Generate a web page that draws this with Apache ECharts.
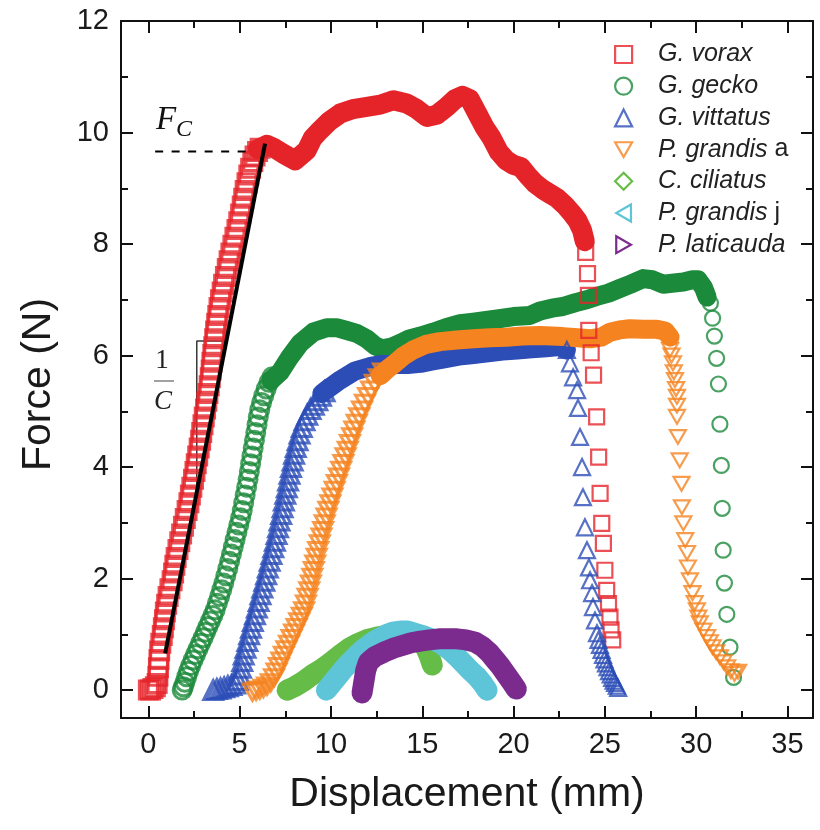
<!DOCTYPE html>
<html><head><meta charset="utf-8">
<script src="https://cdn.jsdelivr.net/npm/echarts@6/dist/echarts.min.js"></script>
<style>html,body{margin:0;padding:0;background:#fff}#c{width:820px;height:830px}</style>
</head><body><div id="c"></div>
<script>
// ---------------- data ----------------
const xTickValues = [0, 5, 10, 15, 20, 25, 30, 35];
const xMinorTicks = [2.5, 7.5, 12.5, 17.5, 22.5, 27.5, 32.5];
const yTickValues = [0, 2, 4, 6, 8, 10, 12];
const yMinorTicks = [1, 3, 5, 7, 9, 11];
const speciesNames = ['G. vorax', 'G. gecko', 'G. vittatus', 'P. grandis a', 'C. ciliatus', 'P. grandis j', 'P. laticauda'];

// G. vorax (red squares)
const voraxRise = [[0.0,0.0],[0.12,0.0],[0.25,0.03],[0.38,0.06],[0.48,0.12],[0.52,0.25],[0.55,0.4],[0.58,0.55],[0.62,0.7],[0.68,0.84],[0.76,0.98],[0.82,1.12],[0.88,1.26],[0.93,1.4],[1.0,1.54],[1.08,1.68],[1.18,1.82],[1.3,1.96],[1.38,2.1],[1.45,2.24],[1.52,2.38],[1.62,2.52],[1.72,2.66],[1.82,2.8],[1.92,2.94],[2.02,3.08],[2.12,3.22],[2.22,3.36],[2.3,3.5],[2.38,3.64],[2.47,3.78],[2.55,3.92],[2.62,4.06],[2.7,4.2],[2.78,4.34],[2.86,4.48],[2.92,4.62],[2.99,4.76],[3.06,4.9],[3.13,5.04],[3.2,5.18],[3.26,5.32],[3.33,5.46],[3.39,5.6],[3.44,5.74],[3.48,5.88],[3.53,6.02],[3.58,6.16],[3.63,6.3],[3.68,6.44],[3.74,6.58],[3.8,6.72],[3.87,6.86],[3.95,7.0],[4.04,7.14],[4.12,7.28],[4.22,7.42],[4.32,7.56],[4.42,7.7],[4.52,7.84],[4.63,7.98],[4.74,8.12],[4.85,8.26],[4.95,8.4],[5.05,8.54],[5.14,8.68],[5.22,8.82],[5.3,8.96],[5.4,9.1],[5.5,9.24],[5.6,9.36],[5.72,9.48],[5.84,9.58],[5.98,9.66],[6.12,9.72]];
const voraxBand = [[6.0,9.7],[6.48,9.78],[6.9,9.72],[7.39,9.62],[8.03,9.5],[8.67,9.68],[9.0,9.9],[9.4,10.04],[9.9,10.2],[10.5,10.34],[11.2,10.42],[11.96,10.46],[12.7,10.5],[13.42,10.58],[14.15,10.52],[14.7,10.42],[15.25,10.28],[15.8,10.32],[16.34,10.46],[16.8,10.6],[17.2,10.66],[17.6,10.6],[18.0,10.35],[18.4,10.1],[18.8,9.9],[19.2,9.65],[19.6,9.5],[20.0,9.42],[20.4,9.38],[20.8,9.22],[21.2,9.08],[21.6,8.98],[22.0,8.9],[22.4,8.82],[22.8,8.7],[23.2,8.55],[23.5,8.42],[23.75,8.25],[23.9,8.05]];
const voraxDrop = [[23.95,7.85],[24.05,7.47],[24.1,7.08],[24.12,6.45],[24.25,6.05],[24.38,5.65],[24.55,4.9],[24.66,4.18],[24.74,3.53],[24.83,2.99],[24.92,2.63],[25.0,2.15],[25.1,1.79],[25.2,1.55],[25.28,1.31],[25.34,1.08],[25.43,0.9]];

// G. gecko (green circles)
const geckoRise = [[1.85,0.0],[1.92,0.06],[2.0,0.14],[2.1,0.24],[2.2,0.34],[2.32,0.44],[2.45,0.54],[2.58,0.64],[2.72,0.74],[2.86,0.84],[3.0,0.94],[3.13,1.04],[3.26,1.14],[3.4,1.24],[3.53,1.34],[3.66,1.44],[3.78,1.56],[3.9,1.68],[4.02,1.8],[4.13,1.92],[4.24,2.05],[4.35,2.18],[4.45,2.31],[4.55,2.44],[4.65,2.57],[4.75,2.7],[4.85,2.83],[4.95,2.96],[5.05,3.09],[5.14,3.22],[5.22,3.36],[5.3,3.5],[5.38,3.64],[5.46,3.78],[5.53,3.92],[5.6,4.06],[5.67,4.2],[5.74,4.34],[5.81,4.48],[5.88,4.62],[5.95,4.76],[6.02,4.9],[6.1,5.03],[6.2,5.16],[6.32,5.28],[6.45,5.4],[6.6,5.52],[6.78,5.62]];
const geckoBand = [[6.7,5.55],[7.21,5.7],[7.76,5.98],[8.31,6.22],[9.03,6.42],[9.77,6.5],[10.3,6.5],[10.87,6.45],[11.4,6.4],[11.96,6.3],[12.4,6.18],[12.8,6.12],[13.3,6.15],[13.8,6.22],[14.3,6.3],[14.9,6.35],[15.6,6.42],[16.3,6.5],[17.07,6.57],[17.8,6.6],[18.5,6.63],[19.2,6.66],[20.0,6.7],[20.9,6.72],[21.45,6.8],[22.1,6.85],[22.7,6.88],[23.4,6.95],[24.0,7.0],[24.55,7.06],[25.2,7.12],[25.8,7.2],[26.4,7.28],[27.1,7.38],[27.6,7.36],[28.2,7.28],[28.8,7.3],[29.3,7.32],[29.8,7.36],[30.1,7.36],[30.4,7.22],[30.6,7.05]];
const geckoDrop = [[30.78,6.94],[30.9,6.67],[31.0,6.35],[31.12,5.95],[31.22,5.49],[31.3,4.77],[31.38,4.03],[31.43,3.26],[31.48,2.51],[31.55,1.92],[31.68,1.36],[31.85,0.77],[32.05,0.23]];

// G. vittatus (blue triangles)
const vittatusRise = [[3.55,0.0],[3.75,0.02],[3.95,0.03],[4.15,0.05],[4.35,0.07],[4.55,0.09],[4.75,0.12],[4.9,0.18],[5.0,0.28],[5.07,0.4],[5.14,0.52],[5.22,0.64],[5.32,0.76],[5.42,0.88],[5.52,1.0],[5.62,1.12],[5.72,1.24],[5.84,1.36],[5.94,1.48],[6.04,1.6],[6.14,1.72],[6.24,1.84],[6.35,1.96],[6.45,2.08],[6.54,2.2],[6.64,2.32],[6.74,2.44],[6.84,2.56],[6.93,2.68],[7.02,2.8],[7.1,2.92],[7.18,3.04],[7.27,3.16],[7.35,3.28],[7.42,3.4],[7.5,3.52],[7.58,3.64],[7.65,3.76],[7.73,3.88],[7.81,4.0],[7.9,4.12],[7.98,4.24],[8.07,4.36],[8.17,4.48],[8.28,4.6],[8.4,4.72],[8.55,4.84],[8.7,4.94],[8.88,5.04],[9.06,5.12],[9.25,5.2],[9.45,5.28],[9.65,5.36]];
const vittatusBand = [[9.5,5.32],[9.9,5.42],[10.5,5.56],[11.3,5.72],[12.1,5.8],[12.8,5.84],[13.5,5.84],[14.2,5.84],[14.9,5.86],[15.5,5.9],[16.2,5.94],[17.0,5.99],[17.8,6.02],[18.6,6.05],[19.4,6.08],[20.2,6.1],[21.0,6.12],[21.8,6.14],[22.5,6.16],[22.9,6.1]];
const vittatusDrop = [[22.92,6.1],[23.09,5.86],[23.26,5.61],[23.48,5.38],[23.53,5.06],[23.64,4.54],[23.75,4.0],[23.8,3.46],[23.91,2.92],[24.02,2.51],[24.13,2.2],[24.19,1.97],[24.3,1.74],[24.35,1.49],[24.46,1.25],[24.57,1.02],[24.65,0.9],[24.73,0.81],[24.82,0.72],[24.9,0.63],[24.98,0.55],[25.06,0.48],[25.15,0.41],[25.23,0.34],[25.32,0.28],[25.4,0.22],[25.48,0.17],[25.56,0.13],[25.65,0.08],[25.73,0.04]];

// P. grandis a (orange down triangles)
const grandisARise = [[5.7,-0.04],[5.9,-0.02],[6.1,0.0],[6.3,0.03],[6.5,0.07],[6.7,0.13],[6.88,0.22],[7.02,0.32],[7.15,0.42],[7.28,0.52],[7.42,0.62],[7.56,0.72],[7.7,0.82],[7.84,0.92],[7.98,1.02],[8.12,1.12],[8.26,1.22],[8.4,1.32],[8.53,1.42],[8.63,1.54],[8.72,1.66],[8.81,1.78],[8.9,1.9],[8.98,2.02],[9.06,2.14],[9.14,2.26],[9.22,2.38],[9.3,2.5],[9.39,2.62],[9.48,2.74],[9.57,2.86],[9.66,2.98],[9.76,3.1],[9.86,3.22],[9.97,3.34],[10.08,3.46],[10.2,3.58],[10.32,3.7],[10.44,3.82],[10.56,3.94],[10.68,4.06],[10.8,4.18],[10.92,4.3],[11.04,4.42],[11.16,4.54],[11.28,4.66],[11.41,4.78],[11.55,4.9],[11.7,5.02],[11.86,5.14],[12.03,5.26],[12.2,5.38],[12.4,5.5],[12.62,5.6],[12.85,5.7]];
const grandisABand = [[12.7,5.64],[13.1,5.76],[13.5,5.86],[14.0,6.0],[14.5,6.1],[15.2,6.2],[15.97,6.25],[16.9,6.28],[17.8,6.3],[18.7,6.32],[19.6,6.33],[20.5,6.35],[21.45,6.36],[22.1,6.35],[22.7,6.34],[23.5,6.32],[24.2,6.3],[24.8,6.33],[25.28,6.42],[25.8,6.46],[26.37,6.48],[27.1,6.47],[27.85,6.47],[28.3,6.44],[28.57,6.33]];
const grandisADrop = [[28.57,6.1],[28.65,6.0],[28.73,5.86],[28.78,5.7],[28.84,5.56],[28.9,5.4],[28.95,5.26],[28.95,5.1],[28.95,4.9],[29.0,4.54],[29.1,4.12],[29.2,3.7],[29.22,3.28],[29.3,2.99],[29.4,2.69],[29.5,2.46],[29.55,2.2],[29.66,1.97],[29.8,1.74],[29.92,1.56],[30.04,1.43],[30.12,1.3],[30.2,1.2],[30.4,1.07],[30.6,0.95],[30.75,0.86],[30.9,0.77],[31.1,0.68],[31.3,0.59],[31.5,0.5],[31.7,0.41],[31.9,0.34],[32.1,0.29],[32.3,0.33]];

// C. ciliatus (light green), P. grandis j (cyan), P. laticauda (purple)
const ciliatusBand = [[7.6,0.0],[8.0,0.06],[8.5,0.16],[9.0,0.28],[9.5,0.38],[10.0,0.5],[10.5,0.63],[11.0,0.75],[11.5,0.84],[12.0,0.91],[12.5,0.95],[13.0,0.98],[13.5,1.0],[14.0,1.0],[14.5,0.98],[14.9,0.9],[15.2,0.75],[15.4,0.6],[15.55,0.45]];
const grandisJBand = [[9.75,0.0],[10.0,0.1],[10.3,0.22],[10.7,0.38],[11.04,0.5],[11.4,0.62],[11.8,0.74],[12.2,0.84],[12.6,0.92],[13.0,0.99],[13.4,1.04],[13.8,1.06],[14.2,1.06],[14.6,1.02],[15.0,0.98],[15.5,0.92],[16.0,0.84],[16.5,0.72],[16.9,0.6],[17.25,0.48],[17.6,0.36],[18.0,0.24],[18.3,0.12],[18.55,0.0]];
const laticaudaBand = [[11.7,-0.05],[11.8,0.15],[11.9,0.35],[12.05,0.5],[12.4,0.6],[12.9,0.68],[13.4,0.75],[13.9,0.8],[14.4,0.85],[14.9,0.88],[15.4,0.9],[15.9,0.92],[16.4,0.92],[16.9,0.92],[17.4,0.9],[17.9,0.86],[18.3,0.78],[18.7,0.66],[19.0,0.54],[19.3,0.42],[19.6,0.28],[19.9,0.14],[20.15,0.02]];

// annotations (data coordinates)
const fitLine = [[0.92, 0.66], [6.39, 9.8]];
const fcLine = [[0.37, 9.66], [5.6, 9.66]];
const slopeTriangle = [[4.27, 6.26], [2.65, 6.26], [2.65, 3.55]];

// ---------------- chart ----------------
const FONT = '"Liberation Sans", Arial, Helvetica, sans-serif';
const SERIF = '"Liberation Serif", "Times New Roman", serif';
const colors = ['#E5242A', '#1C8A3B', '#2C4DB6', '#F5831F', '#65BD47', '#5EC5D8', '#7B2B8E'];
const downTri = 'path://M0,0L10,0L5,8.66Z';
const leftTri = 'path://M8.66,0L8.66,10L0,5Z';
const rightTri = 'path://M0,0L8.66,5L0,10Z';
const symbols = ['rect', 'circle', 'triangle', downTri, 'diamond', leftTri, rightTri];

const series = [];
function scatter(name, color, symbol, size, bw, data) {
  series.push({
    type: 'scatter', name, data, symbol, symbolSize: size, symbolKeepAspect: true,
    itemStyle: { color: 'rgba(0,0,0,0)', borderColor: color, borderWidth: bw },
    emphasis: { disabled: true }, z: 3, silent: true
  });
}
function band(name, color, data, width) {
  series.push({
    type: 'line', name, data, symbol: 'none', showSymbol: false,
    lineStyle: { color, width: width, cap: 'round', join: 'round' },
    emphasis: { disabled: true }, z: 3, silent: true
  });
}
function annot(data, style, z) {
  series.push({ type: 'line', name: '_annot', data, symbol: 'none', showSymbol: false,
    lineStyle: style, z, silent: true, emphasis: { disabled: true } });
}

annot(slopeTriangle, { color: '#3a3a3a', width: 1.5 }, 2);
scatter(speciesNames[0], colors[0], symbols[0], 18, 3, voraxRise);
band(speciesNames[0], colors[0], voraxBand, 20);
scatter(speciesNames[0], colors[0], symbols[0], 15, 2.2, voraxDrop);
scatter(speciesNames[1], colors[1], symbols[1], 18, 3, geckoRise);
band(speciesNames[1], colors[1], geckoBand, 19);
scatter(speciesNames[1], colors[1], symbols[1], 15, 2.2, geckoDrop);
scatter(speciesNames[2], colors[2], symbols[2], 19, 3, vittatusRise);
band(speciesNames[2], colors[2], vittatusBand, 19);
scatter(speciesNames[2], colors[2], symbols[2], 16, 2.2, vittatusDrop);
scatter(speciesNames[3], colors[3], symbols[3], 19, 3, grandisARise);
band(speciesNames[3], colors[3], grandisABand, 19);
scatter(speciesNames[3], colors[3], symbols[3], 16, 2.2, grandisADrop);
band(speciesNames[4], colors[4], ciliatusBand, 21);
band(speciesNames[5], colors[5], grandisJBand, 21);
band(speciesNames[6], colors[6], laticaudaBand, 21);
annot(fitLine, { color: '#000', width: 4 }, 5);
annot(fcLine, { color: '#000', width: 2, type: [8, 8.5] }, 5);

function majorAxis(pos, values, show) {
  return {
    type: 'value', position: pos,
    axisLine: { show: true, onZero: false, lineStyle: { color: '#111', width: 2 } },
    axisTick: { show: true, inside: true, length: 12, customValues: values, lineStyle: { color: '#111', width: 2 } },
    axisLabel: { show: show, customValues: values, fontSize: 29, fontFamily: FONT, color: '#1a1a1a' },
    splitLine: { show: false }
  };
}
function minorAxis(pos, values) {
  return {
    type: 'value', position: pos,
    axisLine: { show: false, onZero: false },
    axisTick: { show: true, inside: true, length: 7, customValues: values, lineStyle: { color: '#111', width: 2 } },
    axisLabel: { show: false },
    splitLine: { show: false }
  };
}
const XMIN = -1.5, XMAX = 36.4, YMIN = -0.5, YMAX = 12;
const xAxes = [majorAxis('bottom', xTickValues, true), minorAxis('bottom', xMinorTicks), majorAxis('top', xTickValues, false), minorAxis('top', xMinorTicks)];
const yAxes = [majorAxis('left', yTickValues, true), minorAxis('left', yMinorTicks), majorAxis('right', yTickValues, false), minorAxis('right', yMinorTicks)];
xAxes.forEach(a => { a.min = XMIN; a.max = XMAX; });
yAxes.forEach(a => { a.min = YMIN; a.max = YMAX; });
xAxes[0].axisLabel.margin = 12;
yAxes[0].axisLabel.margin = 12;
xAxes[0].name = 'Displacement (mm)';
xAxes[0].nameLocation = 'middle';
xAxes[0].nameGap = 56;
xAxes[0].nameTextStyle = { fontSize: 41, fontFamily: FONT, color: '#1a1a1a' };
yAxes[0].name = 'Force (N)';
yAxes[0].nameLocation = 'middle';
yAxes[0].nameGap = 62;
yAxes[0].nameTextStyle = { fontSize: 41, fontFamily: FONT, color: '#1a1a1a', padding: [0, 30, 0, 0] };

const chart = echarts.init(document.getElementById('c'), null, { renderer: 'canvas' });
chart.setOption({
  animation: false,
  backgroundColor: '#fff',
  grid: { left: 121, right: 7, top: 21, bottom: 112, containLabel: false },
  xAxis: xAxes,
  yAxis: yAxes,
  legend: {
    orient: 'vertical', left: 614, top: 42, padding: 0,
    itemWidth: 17, itemHeight: 17, itemGap: 6.7,
    selectedMode: false,
    data: speciesNames.map((n, i) => ({
      name: n, icon: symbols[i],
      itemStyle: { color: 'rgba(0,0,0,0)', borderColor: colors[i], borderWidth: 2.2 }
    })),
    formatter: n => {
      const m = n.match(/^(.*) ([aj])$/);
      return m ? '{i|' + m[1] + '} {n|' + m[2] + '}' : '{i|' + n + '}';
    },
    textStyle: {
      fontSize: 25, fontFamily: FONT, color: '#222', lineHeight: 25, padding: [0, 0, 0, 21],
      rich: {
        i: { fontStyle: 'italic', fontSize: 25, fontFamily: FONT, color: '#222', lineHeight: 25 },
        n: { fontSize: 25, fontFamily: FONT, color: '#222', lineHeight: 25 }
      }
    }
  },
  graphic: [
    { type: 'text', left: 156, top: 104, style: { text: 'F', font: 'italic 33px ' + SERIF, fill: '#111' } },
    { type: 'text', left: 176, top: 118, style: { text: 'C', font: 'italic 24px ' + SERIF, fill: '#111' } },
    { type: 'text', x: 162, y: 361, style: { text: '1', font: '27px ' + SERIF, fill: '#222', align: 'center', verticalAlign: 'middle' } },
    { type: 'line', shape: { x1: 154, y1: 381, x2: 174, y2: 381 }, style: { stroke: '#444', lineWidth: 1 } },
    { type: 'text', x: 163, y: 402, style: { text: 'C', font: 'italic 27px ' + SERIF, fill: '#222', align: 'center', verticalAlign: 'middle' } }
  ],
  series
});
</script></body></html>
